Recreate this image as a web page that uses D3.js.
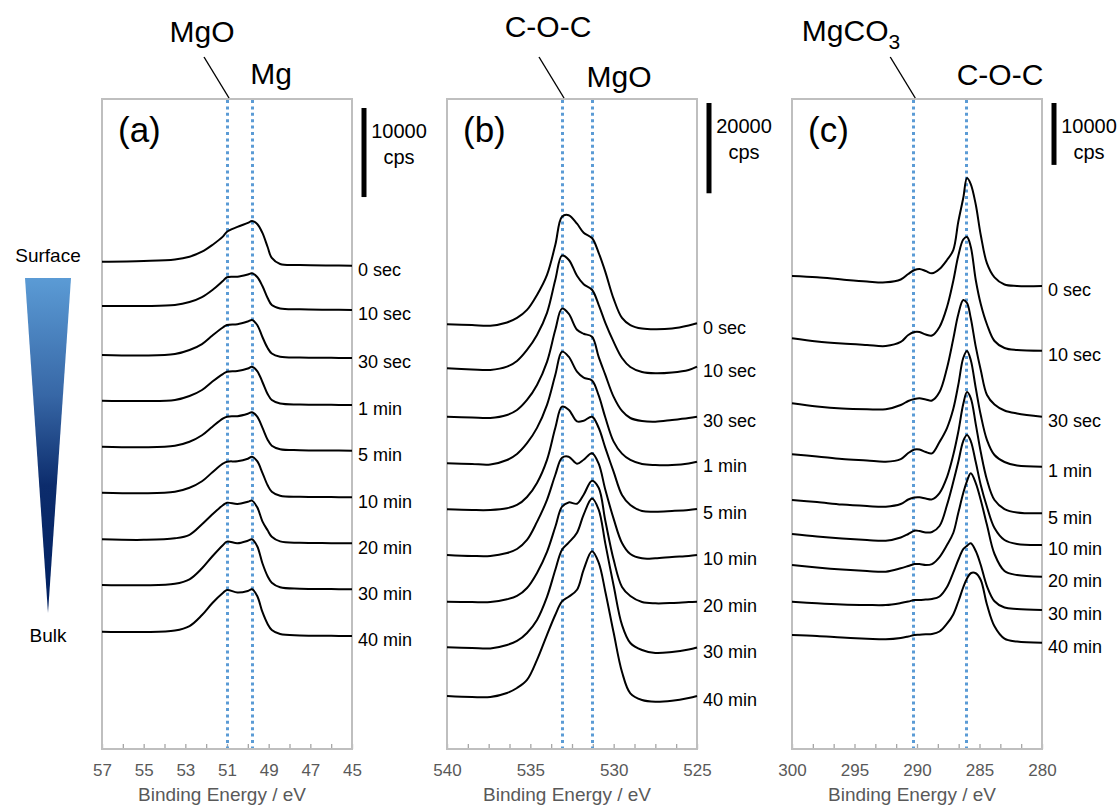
<!DOCTYPE html>
<html>
<head>
<meta charset="utf-8">
<script src="https://cdn.jsdelivr.net/npm/d3@7"></script>
<style>
  body { margin: 0; background: #fff; }
  svg { display: block; font-family: "Liberation Sans", Arial, sans-serif; }
</style>
</head>
<body>
<svg width="1117" height="807"></svg>
<script>
// sputter times, top (surface) to bottom (bulk)
const times = ["0 sec", "10 sec", "30 sec", "1 min", "5 min", "10 min", "20 min", "30 min", "40 min"]

// (a) Mg 2p
const mg2pEnergy = [57, 55, 53.5, 52.8, 52.2, 51.7, 51.2, 51.0, 50.5, 50.0, 49.8, 49.55, 49.3, 49.05, 48.85, 48.45, 47.5, 46, 45]
const mg2pOffsets = [54280, 49300, 43910, 38630, 33500, 28270, 23100, 17940, 12690]
const mg2pCounts = [
  [450, 530, 700, 1010, 1570, 2330, 3260, 3820, 4350, 4800, 5020, 4690, 3680, 2100, 870, 190, 80, 20, 0],
  [450, 450, 560, 900, 1460, 2250, 3260, 3680, 3740, 3990, 4120, 3710, 2700, 1350, 560, 170, 80, 30, 0],
  [340, 280, 450, 900, 1570, 2530, 3430, 3710, 3790, 4100, 4270, 3710, 2360, 1120, 510, 150, 60, 20, 0],
  [480, 450, 560, 1010, 1690, 2640, 3480, 3740, 3820, 4100, 4300, 3820, 2590, 1240, 560, 170, 60, 20, 0],
  [450, 390, 560, 1010, 1740, 2700, 3600, 3820, 3880, 4160, 4320, 3820, 2590, 1240, 560, 170, 60, 20, 0],
  [520, 450, 620, 1070, 1800, 2810, 3770, 4000, 4050, 4330, 4560, 4050, 2750, 1350, 620, 170, 60, 20, 0],
  [450, 390, 560, 960, 2140, 3260, 4270, 4560, 4420, 4660, 4790, 4050, 2470, 1460, 740, 220, 60, 20, 0],
  [480, 450, 620, 1120, 2360, 3710, 4950, 5350, 5170, 5450, 5620, 4830, 2920, 1460, 730, 220, 60, 20, 0],
  [480, 450, 620, 1120, 2360, 3710, 4830, 5170, 4890, 5060, 5250, 4500, 2700, 1350, 670, 220, 60, 20, 0]
]
const mg2pPeaks = [51.0, 49.8]
const mg2pTicks = [57, 55, 53, 51, 49, 47, 45]

// (b) O 1s
const o1sEnergy = [540, 538.5, 537.4, 536.4, 535.8, 535.2, 534.6, 534.0, 533.5, 533.1, 532.7, 532.2, 531.8, 531.3, 530.9, 530.5, 530.0, 529.5, 529.0, 528.3, 527.5, 526.5, 525.5, 525]
const o1sOffsets = [94310, 84700, 73620, 63650, 53170, 42980, 32630, 22490, 11740]
const o1sCounts = [
  [-220, -380, -530, 180, 1180, 2960, 6290, 10730, 17400, 23620, 23950, 22070, 20070, 18890, 15620, 11400, 5400, 1180, -380, -1160, -1330, -1160, -490, 0],
  [-360, -620, -730, 0, 1270, 3710, 7040, 11930, 19260, 24590, 23700, 20150, 18260, 17040, 13710, 9710, 5490, 1930, -70, -1180, -1470, -1290, -730, 0],
  [0, -180, -290, 380, 1490, 3710, 7040, 12150, 19260, 23930, 22820, 19260, 18380, 17710, 13260, 9260, 4380, 1270, -290, -960, -1110, -730, -290, 0],
  [-360, -510, -620, 380, 1710, 4090, 7490, 12600, 19260, 24370, 23260, 19930, 18600, 18000, 14670, 9780, 4440, 1780, 380, -510, -730, -730, -400, 0],
  [-70, -220, -220, 160, 890, 2670, 5780, 10890, 18000, 22660, 22000, 19400, 19550, 20440, 18000, 13550, 8220, 3110, 890, -440, -600, -440, -220, 0],
  [0, -220, -220, 440, 1330, 3330, 7330, 12220, 17780, 21550, 21780, 20220, 21110, 22550, 20220, 14440, 8000, 2670, 220, -730, -730, -440, -220, 0],
  [0, -70, -70, 530, 1270, 3040, 6380, 11040, 16600, 21040, 22000, 21710, 23710, 26820, 25260, 17930, 9270, 3270, 1270, -70, -360, -290, -70, 0],
  [40, -110, -220, 560, 1440, 3220, 6110, 11220, 17220, 21670, 23220, 25440, 29440, 33000, 30550, 23000, 13670, 5000, 1000, -560, -1220, -1000, -440, 0],
  [0, -220, -220, 670, 1780, 3560, 8000, 13550, 18000, 20950, 22000, 23550, 28000, 32060, 29550, 23110, 14000, 5330, 600, -890, -1270, -1040, -440, 0]
]
const o1sPeaks = [533.1, 531.3]
const o1sTicks = [540, 535, 530, 525]

// (c) C 1s
const c1sEnergy = [300, 298, 296, 294, 292.5, 291.3, 290.7, 290.2, 289.8, 289.3, 288.8, 288.2, 287.6, 287.1, 286.7, 286.3, 286.0, 285.7, 285.3, 284.9, 284.4, 283.8, 283, 282, 280]
const c1sOffsets = [74790, 64340, 53680, 45600, 38070, 32950, 27830, 22450, 17170]
const c1sCounts = [
  [1620, 1410, 1050, 730, 600, 1050, 1940, 2580, 2750, 2420, 2050, 2750, 4200, 5810, 10340, 14210, 17440, 16470, 13160, 8240, 3650, 1390, 240, 0, 0],
  [2000, 1490, 1160, 920, 760, 1410, 2540, 3020, 3020, 2620, 2450, 3830, 7060, 11260, 15290, 17960, 18360, 16800, 11420, 7540, 4230, 1570, 440, 110, 0],
  [2160, 1650, 1320, 1200, 1200, 1890, 2540, 2860, 2970, 2780, 2620, 3990, 7870, 12550, 16510, 18850, 18360, 15940, 11310, 7540, 3500, 1970, 1000, 520, 0],
  [2000, 1650, 1240, 1000, 810, 1240, 2210, 2780, 2780, 2370, 2160, 3990, 6250, 9320, 13190, 17560, 18690, 17230, 12710, 8350, 4310, 1890, 760, 190, 0],
  [2150, 1820, 1420, 1180, 1070, 1500, 2230, 2550, 2580, 2390, 2260, 3280, 5860, 9420, 13130, 17650, 19590, 18620, 14420, 9900, 5380, 2150, 690, 130, 0],
  [1780, 1370, 1050, 810, 690, 1210, 1780, 2310, 2260, 2020, 2100, 3070, 6460, 10170, 13400, 16800, 17770, 16800, 13400, 9690, 6140, 2750, 810, 160, 0],
  [1890, 1490, 1160, 920, 810, 1360, 1730, 2050, 2050, 1890, 2050, 3180, 5120, 7060, 10290, 13520, 15460, 16700, 15130, 12390, 8350, 3670, 920, 270, 0],
  [1340, 1080, 890, 810, 810, 1130, 1370, 1620, 1620, 1700, 1780, 2180, 3710, 6040, 8080, 9850, 10370, 10770, 9530, 7270, 3830, 1420, 400, 160, 0],
  [1240, 1080, 840, 650, 550, 760, 1000, 1240, 1290, 1360, 1410, 1810, 3070, 4570, 6620, 8960, 10370, 11220, 11220, 10130, 6140, 2650, 650, 190, 0]
]
const c1sPeaks = [290.3, 286.1]
const c1sTicks = [300, 295, 290, 285, 280]

let svg = d3.select("svg")
let plotTop = 99, plotBottom = 749, plotW = 250

let panels = [
  {letter: "(a)", left: 102, domain: [57, 45], energy: mg2pEnergy, counts: mg2pCounts, offsets: mg2pOffsets,
   yMax: 73000, ticks: mg2pTicks, peaks: mg2pPeaks, bar: 10000, barTop: 108,
   notes: [{t: "MgO", x: 202, y: 42}, {t: "Mg", x: 271, y: 84}]},
  {letter: "(b)", left: 447, domain: [540, 525], energy: o1sEnergy, counts: o1sCounts, offsets: o1sOffsets,
   yMax: 144000, ticks: o1sTicks, peaks: o1sPeaks, bar: 20000, barTop: 103,
   notes: [{t: "C-O-C", x: 548, y: 37}, {t: "MgO", x: 619, y: 87}]},
  {letter: "(c)", left: 792, domain: [300, 280], energy: c1sEnergy, counts: c1sCounts, offsets: c1sOffsets,
   yMax: 105000, ticks: c1sTicks, peaks: c1sPeaks, bar: 10000, barTop: 103,
   notes: [{t: "MgCO", sub: "3", x: 851, y: 41}, {t: "C-O-C", x: 1000, y: 85}]}
]

panels.forEach(drawPanel)
drawDepthArrow()

function drawPanel(p){
  let x = d3.scaleLinear().domain(p.domain).range([p.left, p.left + plotW])
  let y = d3.scaleLinear().domain([0, p.yMax]).range([plotBottom, plotTop])
  let g = svg.append("g")

  // tick marks: 12 even steps, labels only on the round values
  let step = (p.domain[1] - p.domain[0]) / 12
  let minor = d3.range(13).map(i => p.domain[0] + i * step)
  let ax = g.append("g").attr("transform", "translate(0," + plotBottom + ")")
    .call(d3.axisBottom(x).tickValues(minor).tickSize(-5).tickFormat(() => ""))
  ax.select(".domain").remove()
  ax.selectAll("line").attr("stroke", "#a6a6a6").attr("stroke-width", 1.3)

  let lab = g.append("g").attr("transform", "translate(0," + plotBottom + ")")
    .call(d3.axisBottom(x).tickValues(p.ticks).tickSize(0).tickPadding(15))
  lab.select(".domain").remove()
  lab.attr("font-family", null).attr("font-size", 17)
  lab.selectAll("text").attr("fill", "#595959")

  g.append("text")
    .attr("x", p.left + 120).attr("y", 801)
    .attr("text-anchor", "middle").attr("fill", "#595959").attr("font-size", 19)
    .text("Binding Energy / eV")

  // frame
  g.append("rect")
    .attr("x", p.left).attr("y", plotTop)
    .attr("width", plotW).attr("height", plotBottom - plotTop)
    .attr("fill", "none").attr("stroke", "#bfbfbf").attr("stroke-width", 2)

  // reference positions (snapped so the dots stay crisp)
  g.selectAll(".peak")
    .data(p.peaks)
    .enter().append("line")
      .attr("class", "peak")
      .attr("x1", d => Math.round(x(d)) + 0.5).attr("x2", d => Math.round(x(d)) + 0.5)
      .attr("y1", plotTop + 1).attr("y2", plotBottom - 1)
      .attr("stroke", "#5b9bd5").attr("stroke-width", 3)
      .attr("stroke-dasharray", "3,3.4")

  // stacked spectra
  let line = d3.line()
    .x(d => x(d[0]))
    .y(d => y(d[1]))
    .curve(d3.curveCatmullRom.alpha(0.5))

  p.counts.forEach((c, i) => {
    let pts = p.energy.map((e, j) => [e, p.offsets[i] + c[j]])
    g.append("path").datum(pts)
      .attr("d", line)
      .attr("fill", "none").attr("stroke", "#000").attr("stroke-width", 2)
    g.append("text")
      .attr("x", p.left + plotW + 6).attr("y", y(p.offsets[i]) + 4)
      .attr("dy", "0.35em").attr("font-size", 18)
      .text(times[i])
  })

  // panel letter
  g.append("text")
    .attr("x", p.left + 16).attr("y", 142)
    .attr("font-size", 35)
    .text(p.letter)

  // intensity scale bar
  let bx = p.left + plotW + 12
  g.append("line")
    .attr("x1", bx).attr("x2", bx)
    .attr("y1", p.barTop).attr("y2", p.barTop + (y(0) - y(p.bar)))
    .attr("stroke", "#000").attr("stroke-width", 5)
  g.append("text")
    .attr("x", bx + 35).attr("y", p.barTop + 30)
    .attr("text-anchor", "middle").attr("font-size", 20)
    .text(p.bar)
  g.append("text")
    .attr("x", bx + 35).attr("y", p.barTop + 56)
    .attr("text-anchor", "middle").attr("font-size", 20)
    .text("cps")

  // peak names above the frame
  p.notes.forEach(n => {
    let t = g.append("text")
      .attr("x", n.x).attr("y", n.y)
      .attr("text-anchor", "middle").attr("font-size", 30)
    t.append("tspan").text(n.t)
    if (n.sub) t.append("tspan").attr("font-size", 21).attr("dy", 8).text(n.sub)
  })
  let px = x(p.peaks[0])
  g.append("line")
    .attr("x1", px - 23).attr("y1", 57)
    .attr("x2", px + 2).attr("y2", 98)
    .attr("stroke", "#000").attr("stroke-width", 1.4)
}

function drawDepthArrow(){
  let grad = svg.append("defs").append("linearGradient")
    .attr("id", "depth").attr("x1", 0).attr("y1", 0).attr("x2", 0).attr("y2", 1)
  grad.append("stop").attr("offset", 0).attr("stop-color", "#5b9bd5")
  grad.append("stop").attr("offset", 0.35).attr("stop-color", "#3767a6")
  grad.append("stop").attr("offset", 0.62).attr("stop-color", "#0c2c6c")
  grad.append("stop").attr("offset", 1).attr("stop-color", "#002060")

  svg.append("path")
    .attr("d", "M25,278 L71,278 L48,613 Z")
    .attr("fill", "url(#depth)")

  svg.append("text").attr("x", 48).attr("y", 262)
    .attr("text-anchor", "middle").attr("font-size", 19).text("Surface")
  svg.append("text").attr("x", 48).attr("y", 642)
    .attr("text-anchor", "middle").attr("font-size", 19).text("Bulk")
}
</script>
</body>
</html>
